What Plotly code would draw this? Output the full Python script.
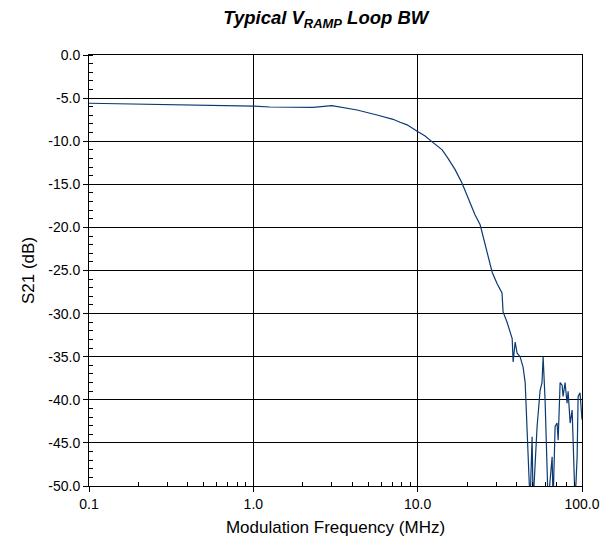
import plotly.graph_objects as go

# Measured loop response: modulation frequency (MHz) vs S21 (dB)
freq_mhz = [
    0.1, 0.278, 0.93, 1.0, 1.26, 2.31, 3.01, 4.28, 5.66, 7.08, 7.81, 8.62,
    10.05, 11.1, 12.2, 13.1, 14.1, 15.3, 16.9, 18.6, 19.7, 20.8, 22.3, 24.0,
    25.7, 26.4, 27.6, 28.4, 30.4,
    32.6, 33.1, 35.0, 37.6, 38.1, 39.2, 40.3, 42.0, 43.2, 43.8, 45.1, 47.0,
    48.3, 49.7, 50.4, 53.3, 55.6, 57.1, 58.0, 59.6, 61.3, 62.2, 65.8, 66.7,
    68.6, 70.5, 71.6, 73.6, 75.7, 76.7, 78.9, 81.1, 82.3, 84.7, 87.1, 88.3,
    90.8, 93.4, 94.7, 97.3, 100.0,
]
s21_db = [
    -5.6, -5.72, -5.9, -5.92, -6.03, -6.07, -5.88, -6.38, -6.96, -7.46, -7.8, -8.1,
    -8.9, -9.4, -10.05, -10.5, -11.0, -12.0, -13.3, -14.85, -16.0, -17.2, -18.5, -19.7,
    -22.0, -22.8, -24.6, -25.2, -26.5,
    -27.6, -29.8, -31.0, -32.9, -35.6, -33.3, -34.6, -35.0, -35.7, -36.2, -38.0, -47.8,
    -52.0, -44.3, -52.0, -43.1, -38.9, -38.0, -35.0, -40.0, -46.6, -52.0, -46.6, -52.0,
    -43.1, -42.7, -44.7, -38.0, -38.3, -39.6, -38.0, -40.4, -39.0, -42.7, -41.2, -43.9,
    -52.0, -46.6, -39.6, -39.2, -42.3,
]

x_tick_vals = [0.1, 1.0, 10.0, 100.0]
x_tick_text = ["0.1", "1.0", "10.0", "100.0"]
x_minor_vals = [m * d for d in (0.1, 1.0, 10.0) for m in range(2, 10)]
y_tick_vals = [0, -5, -10, -15, -20, -25, -30, -35, -40, -45, -50]
y_tick_text = [f"{v:.1f}" for v in y_tick_vals]

font_family = "Liberation Sans, Arial, sans-serif"

fig = go.Figure()
fig.add_trace(go.Scatter(
    x=freq_mhz, y=s21_db, mode="lines",
    line=dict(color="#0b3a73", width=1.2),
    showlegend=False,
))

fig.update_layout(
    width=600, height=542,
    margin=dict(l=89, r=18, t=55, b=56),
    paper_bgcolor="white", plot_bgcolor="white",
    font=dict(family=font_family, size=14, color="black"),
    title=dict(
        text="<b><i>Typical V<sub>RAMP</sub> Loop BW</i></b>",
        x=0.543, xref="container", xanchor="center",
        y=0.967, yref="container", yanchor="middle",
        font=dict(family=font_family, size=18.5, color="black"),
    ),
)

fig.update_xaxes(
    type="log", range=[-1, 2], automargin=False,
    tickvals=x_tick_vals, ticktext=x_tick_text,
    ticks="outside", ticklen=5, tickcolor="black", tickwidth=1,
    showgrid=True, gridcolor="black", gridwidth=1,
    showline=True, linecolor="black", linewidth=1, mirror=True,
    minor=dict(tickvals=x_minor_vals, ticks="inside", ticklen=4,
               tickcolor="black", showgrid=False),
    title=dict(text="Modulation Frequency (MHz)", font=dict(size=17), standoff=10),
    zeroline=False,
)

fig.update_yaxes(
    range=[-50, 0], automargin=False,
    tickvals=y_tick_vals, ticktext=y_tick_text,
    ticks="outside", ticklen=5, tickcolor="black", tickwidth=1,
    showgrid=True, gridcolor="black", gridwidth=1,
    showline=True, linecolor="black", linewidth=1, mirror=True,
    minor=dict(dtick=1, ticks="inside", ticklen=4, tickcolor="black", showgrid=False),
    title=dict(text="S21 (dB)", font=dict(size=17), standoff=9),
    zeroline=False,
)

fig.write_html("out.html")
